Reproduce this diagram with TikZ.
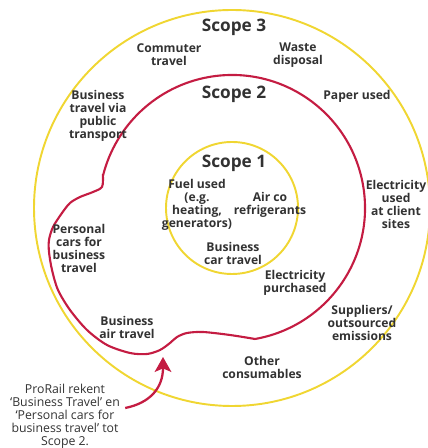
\documentclass[tikz,border=0pt]{standalone}
\usepackage{fontspec}
\setmainfont{Open Sans}
\usetikzlibrary{arrows.meta}
\definecolor{ringyellow}{RGB}{240,214,50}
\definecolor{ringred}{RGB}{196,28,66}
\definecolor{txt}{RGB}{50,50,50}
\begin{document}
\begin{tikzpicture}[x=0.02cm,y=0.02cm,
  lbl/.style={font=\bfseries\fontsize{6.9}{7.4}\selectfont, text=txt, align=center, inner sep=0pt},
  scopetitle/.style={font=\bfseries\fontsize{9.8}{12}\selectfont, text=txt, inner sep=0pt},
  note/.style={font=\fontsize{7}{7.4}\selectfont, text=txt, align=center, inner sep=0pt},
  yring/.style={draw=ringyellow, line width=1.1pt},
  rring/.style={draw=ringred, line width=1.2pt},
  arr/.style={draw=ringred, line width=1.3pt, -{Stealth[length=8.5pt,width=9.5pt,inset=2pt]}}]
\useasboundingbox (0,0) rectangle (427,448);
\coordinate (c) at (232,240);
\draw[yring] (c) circle[radius=198];
\draw[yring] (c) circle[radius=66];
\draw[rring] (c) ++(-80:133) arc[start angle=-80,end angle=166,radius=133]
  -- plot[smooth,tension=0.5] coordinates {(102.9,272.2) (102,261) (93,256) (80,251) (70,245) (62,235) (53,221) (49,208) (49,196) (52,178) (58,158) (70,138) (87,118) (107,103) (130,95) (147,94) (160,98) (170,105) (177,111) (187,115) (203,116) (230,113) (255.1,109.0)};

\node[scopetitle] (s3) at (234,421) {Scope 3};
\node[scopetitle] (s2) at (234,354) {Scope 2};
\node[scopetitle] (s1) at (234,285) {Scope 1};

\node[lbl] (commute) at (169,393) {Commuter\\travel};
\node[lbl] (waste) at (298,393) {Waste\\disposal};
\node[lbl] (paper) at (357,352) {Paper used};
\node[lbl] (public) at (98,332) {Business\\travel via\\public\\transport};
\node[lbl] (fuel) at (197,243) {Fuel used\\(e.g.\\heating,\\generators)};
\node[lbl] (airco) at (270,243) {Air co\\refrigerants};
\node[lbl] (car) at (233,195) {Business\\car travel};
\node[lbl] (elecp) at (295,165) {Electricity\\purchased};
\node[lbl] (elecc) at (396,244) {Electricity\\used\\at client\\sites};
\node[lbl] (personal) at (79,200) {Personal\\cars for\\business\\travel};
\node[lbl] (air) at (127,121) {Business\\air travel};
\node[lbl] (suppl) at (362,125) {Suppliers/\\outsourced\\emissions};
\node[lbl] (other) at (262,81) {Other\\consumables};
\node[note] (prorail) at (65,32) {ProRail rekent\\‘Business Travel’ en\\‘Personal cars for\\business travel’ tot\\Scope 2.};

\coordinate (tip) at (163,91);
\draw[arr] ([shift={(5,8)}]prorail.east) .. controls (150,45) and (163,60) .. (tip);
\end{tikzpicture}
\end{document}
